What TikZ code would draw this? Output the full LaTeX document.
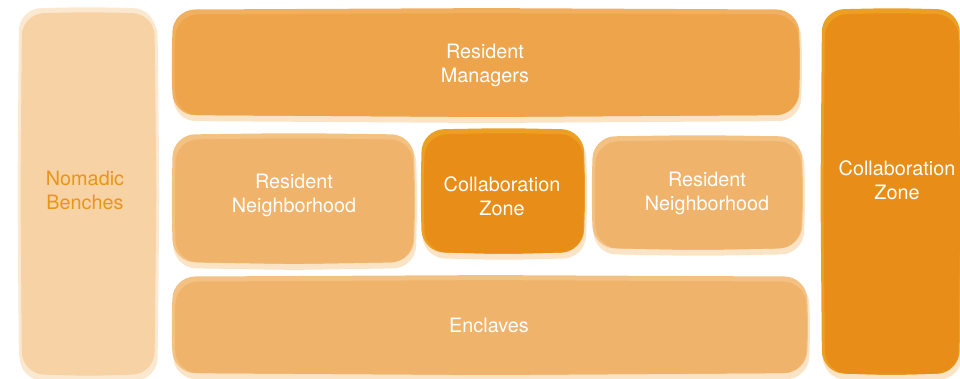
\documentclass[tikz,border=0pt]{standalone}
\usepackage{fontspec}
\setmainfont{TeX Gyre Heros}
\usetikzlibrary{backgrounds}
\definecolor{benchFill}{HTML}{F7D2A5}
\definecolor{benchHalo}{HTML}{FBE8D0}
\definecolor{benchText}{HTML}{E8961A}
\definecolor{mgrFill}{HTML}{EEA44B}
\definecolor{mgrTop}{HTML}{F0B060}
\definecolor{hoodFill}{HTML}{F0B36B}
\definecolor{hoodTop}{HTML}{F3C283}
\definecolor{collabFill}{HTML}{E88D17}
\definecolor{collabTop}{HTML}{EBA024}
\definecolor{paleHalo}{HTML}{FBE3C6}

% wobbly blob round a node: name, grow left, bottom, right, top
\newcommand{\blob}[5]{%
  ([xshift=-#2-1.5]#1.west) -- ([shift={(-#2,-#3)}]#1.south west)
  -- ([yshift=-#3-2]#1.south) -- ([shift={(#4,-#3)}]#1.south east)
  -- ([xshift=#4+2]#1.east) -- ([shift={(#4,#5)}]#1.north east)
  -- ([yshift=#5+1.5]#1.north) -- ([shift={(-#2,#5)}]#1.north west) -- cycle}

% zone: named node, two halos and the main blob behind it
\newcommand{\zone}[8]{% name, x, y, w, h, fill, top halo, bottom halo
  \node[zone, minimum width=#4, minimum height=#5] (#1) at (#2,#3) {};
  \begin{scope}[on background layer, rounded corners=22pt]
    \fill[#8] \blob{#1}{2}{6}{3}{0};
    \fill[#7] \blob{#1}{3}{0}{1}{5};
    \fill[#6] \blob{#1}{0}{0}{0}{0};
  \end{scope}
}

\begin{document}
\begin{tikzpicture}[x=1pt,y=1pt,
  zone/.style={inner sep=0pt, anchor=south west},
  caption/.style={text=white, align=center, font=\fontsize{19.8}{24}\selectfont}]
\useasboundingbox (0,0) rectangle (960,379);

\zone{bench}{22}{5}{132}{360}{benchFill}{benchHalo}{benchHalo}
\zone{managers}{176}{264}{621}{100}{mgrFill}{mgrTop}{paleHalo}
\zone{hoodL}{176}{117}{236}{122}{hoodFill}{hoodTop}{paleHalo}
\zone{collabM}{425}{127}{157}{117}{collabFill}{collabTop}{paleHalo}
\zone{hoodR}{596}{131}{204}{106}{hoodFill}{hoodTop}{paleHalo}
\zone{enclaves}{176}{6}{629}{91}{hoodFill}{hoodTop}{paleHalo}
\zone{collabR}{825}{6}{133}{358}{collabFill}{collabTop}{paleHalo}

\node[caption, text=benchText] (bench-t) at (85,189) {Nomadic\\Benches};
\node[caption] (managers-t) at (485,314) {Resident\\Managers};
\node[caption] (hoodL-t) at (294,184) {Resident\\Neighborhood};
\node[caption] (collabM-t) at (502,183) {Collaboration\\Zone};
\node[caption] (hoodR-t) at (707,186) {Resident\\Neighborhood};
\node[caption] (enclaves-t) at (489,54) {Enclaves};
\node[caption] (collabR-t) at (897,199) {Collaboration\\Zone};
\end{tikzpicture}
\end{document}
